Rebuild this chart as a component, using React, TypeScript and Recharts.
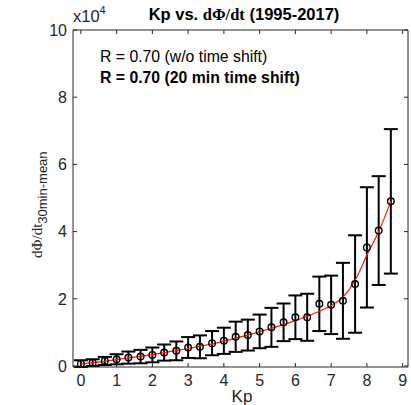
import {
  ComposedChart,
  Scatter,
  Line,
  XAxis,
  YAxis,
  ErrorBar,
  ReferenceLine,
} from 'recharts';

// Kp bins (thirds)
const kpBins = [0, 0.33, 0.67, 1, 1.33, 1.67, 2, 2.33, 2.67, 3, 3.33, 3.67, 4, 4.33, 4.67, 5, 5.33, 5.67, 6, 6.33, 6.67, 7, 7.33, 7.67, 8, 8.33, 8.67];
// mean dPhi/dt, units of 1e4
const meanVals = [0.07, 0.1, 0.15, 0.2, 0.25, 0.28, 0.33, 0.4, 0.45, 0.55, 0.57, 0.68, 0.75, 0.87, 0.92, 1.03, 1.15, 1.3, 1.45, 1.45, 1.85, 1.82, 1.94, 2.44, 3.53, 4.03, 4.9];
// std deviation
const stdVals = [0.1, 0.1, 0.12, 0.15, 0.18, 0.2, 0.22, 0.24, 0.28, 0.31, 0.34, 0.36, 0.39, 0.45, 0.46, 0.5, 0.58, 0.56, 0.65, 0.7, 0.81, 0.87, 1.13, 1.45, 1.79, 1.62, 2.15];
// red fitted curve
const fitVals = [0.06, 0.1, 0.14, 0.19, 0.24, 0.29, 0.34, 0.4, 0.46, 0.52, 0.59, 0.66, 0.74, 0.83, 0.92, 1.02, 1.12, 1.23, 1.35, 1.48, 1.63, 1.8, 2.05, 2.55, 3.3, 4.0, 4.9];

const xTicks = [0, 1, 2, 3, 4, 5, 6, 7, 8, 9];
const yTicks = [0, 2, 4, 6, 8, 10];

const data = kpBins.map((kp, i) => ({
  kp,
  mean: meanVals[i],
  std: stdVals[i],
  fit: fitVals[i],
}));

const W = 411;
const H = 405;
const TOP = 30;
const RIGHT = 408;
const LEFT = 73;
const BOTTOM = 367;
const AX = '#262626';
const FONT = '"Liberation Sans", Arial, Helvetica, sans-serif';
const SERIF = '"Liberation Serif", "Times New Roman", serif';

function XTick(props: any) {
  const { x, y, payload } = props;
  const ay = y - 7;
  return (
    <g>
      <line x1={x} x2={x} y1={ay} y2={ay - 4} stroke={AX} />
      <line x1={x} x2={x} y1={TOP} y2={TOP + 4} stroke={AX} />
      <text x={x} y={y} dy="0.72em" textAnchor="middle" fontSize={16} fill={AX} fontFamily={FONT}>
        {payload.value}
      </text>
    </g>
  );
}

function YTick(props: any) {
  const { x, y, payload } = props;
  const ax = x + 6;
  return (
    <g>
      <line x1={ax} x2={ax + 4} y1={y} y2={y} stroke={AX} />
      <line x1={RIGHT - 4} x2={RIGHT} y1={y} y2={y} stroke={AX} />
      <text x={x} y={y} dy="0.36em" textAnchor="end" fontSize={16} fill={AX} fontFamily={FONT}>
        {payload.value}
      </text>
    </g>
  );
}

const Marker = (props: any) => {
  const { cx, cy } = props;
  return <circle cx={cx} cy={cy} r={3.3} fill="none" stroke="#000" strokeWidth={1.4} />;
};

export default function App() {
  return (
    <div style={{ position: 'absolute', left: 0, top: 0, width: W, height: H, background: '#fff' }}>
      <ComposedChart
        width={W}
        height={H}
        data={data}
        margin={{ top: TOP, right: W - RIGHT, bottom: 0, left: 0 }}
      >
        <XAxis
          dataKey="kp"
          type="number"
          domain={[-0.22, 9.15]}
          ticks={xTicks}
          height={H - BOTTOM}
          tickSize={0}
          tickMargin={7}
          tickLine={false}
          axisLine={{ stroke: AX }}
          tick={<XTick />}
          interval={0}
        />
        <YAxis
          type="number"
          domain={[0, 10]}
          ticks={yTicks}
          width={LEFT}
          tickSize={0}
          tickMargin={6}
          tickLine={false}
          axisLine={{ stroke: AX }}
          tick={<YTick />}
          interval={0}
        />
        <ReferenceLine y={10} stroke={AX} />
        <ReferenceLine x={9.15} stroke={AX} />
        <Scatter dataKey="mean" shape={<Marker />} isAnimationActive={false}>
          <ErrorBar dataKey="std" direction="y" width={7} stroke="#000" strokeWidth={2} />
        </Scatter>
        <Line
          dataKey="fit"
          type="monotone"
          stroke="#ff1a00"
          strokeWidth={1.2}
          dot={false}
          activeDot={false}
          isAnimationActive={false}
        />
      </ComposedChart>
      <svg
        width={W}
        height={H}
        style={{ position: 'absolute', left: 0, top: 0, pointerEvents: 'none' }}
      >
        {/* title */}
        <text x={244} y={20} textAnchor="middle" fontSize={16.5} fontWeight="bold" fill="#000" fontFamily={FONT}>
          Kp vs. <tspan fontFamily={SERIF}>dΦ/dt</tspan> (1995-2017)
        </text>
        {/* exponent */}
        <text x={73} y={22} fontSize={16.5} fill={AX} fontFamily={FONT}>
          x10<tspan fontSize={11} dy={-8}>4</tspan>
        </text>
        {/* correlations */}
        <text x={100} y={62} fontSize={15.8} fill="#000" fontFamily={FONT}>
          R = 0.70 (w/o time shift)
        </text>
        <text x={100} y={83} fontSize={15.8} fontWeight="bold" fill="#000" fontFamily={FONT}>
          R = 0.70 (20 min time shift)
        </text>
        {/* axis labels */}
        <text x={242} y={402} textAnchor="middle" fontSize={17} fill={AX} fontFamily={FONT}>
          Kp
        </text>
        <text transform="translate(42, 258) rotate(-90)" fontSize={15} fill={AX} fontFamily={SERIF}>
          dΦ/dt
          <tspan fontFamily={FONT} fontSize={13} dy={5}>30min-mean</tspan>
        </text>
      </svg>
    </div>
  );
}
